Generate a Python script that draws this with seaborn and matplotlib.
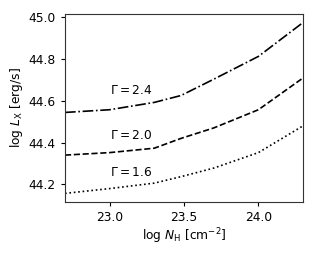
import pandas as pd
import seaborn as sns
from matplotlib import pyplot as plt

# log N_H grid (5e22, 1e23, 2e23, 3e23, 5e23, 1e24, 2e24 cm^-2)
log_nh = [22.70, 23.00, 23.30, 23.48, 23.70, 24.00, 24.30]

lx_g16 = [44.157, 44.180, 44.206, 44.237, 44.278, 44.352, 44.480]
lx_g20 = [44.340, 44.352, 44.373, 44.420, 44.470, 44.557, 44.709]
lx_g24 = [44.544, 44.557, 44.592, 44.625, 44.703, 44.812, 44.974]

gammas = ["1.6", "2.0", "2.4"]
label_y = [44.255, 44.432, 44.650]

sns.set_style("ticks", rc={"xtick.direction": "out", "ytick.direction": "out",
                           "axes.edgecolor": "#333333", "text.color": "black",
                           "xtick.color": "black", "ytick.color": "black",
                           "axes.labelcolor": "black"})

fs = 8.8
fig = plt.figure(figsize=(3.17, 2.54), dpi=100)
ax = fig.add_axes([0.205, 0.205, 0.751, 0.740])

styles = {"1.6": ":", "2.0": "--", "2.4": "-."}
series = {"1.6": lx_g16, "2.0": lx_g20, "2.4": lx_g24}

for g in gammas:
    df = pd.DataFrame({"nh": log_nh, "lx": series[g]})
    sns.lineplot(data=df, x="nh", y="lx", ax=ax, color="black", lw=1.2,
                 linestyle=styles[g], estimator=None)

for g, yl in zip(gammas, label_y):
    ax.text(23.0, yl, r"$\Gamma = %s$" % g, fontsize=fs, ha="left", va="center")

ax.set_xlim(log_nh[0], log_nh[-1])
ax.set_xticks([23.0, 23.5, 24.0])
ax.set_yticks([44.2, 44.4, 44.6, 44.8, 45.0])
ax.set_xlabel(r"log $N_{\rm H}$ [cm$^{-2}$]", fontsize=fs, labelpad=2)
ax.set_ylabel(r"log $L_{\rm X}$ [erg/s]", fontsize=fs, labelpad=3)
ax.tick_params(labelsize=fs, length=3, width=0.8)
for s in ax.spines.values():
    s.set_linewidth(0.8)

fig.savefig("out.png", dpi=100)
